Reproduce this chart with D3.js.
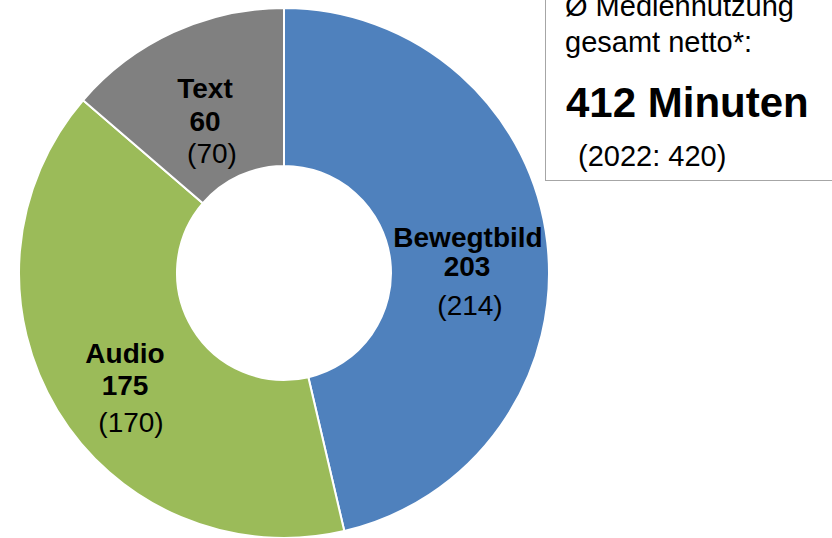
<!DOCTYPE html>
<html>
<head>
<meta charset="utf-8">
<script src="https://cdn.jsdelivr.net/npm/d3@7"></script>
<style>
  body { margin: 0; background: #fff; }
  svg { display: block; font-family: "Liberation Sans", Arial, sans-serif; }
</style>
</head>
<body>
<div id="chart"></div>
<script>
// data
let categories = ["Bewegtbild", "Audio", "Text"];
let values2023 = [203, 175, 60];
let values2022 = [214, 170, 70];
let colours = ["#4f81bd", "#9bbb59", "#808080"];
let boxLines = ["Ø Mediennutzung", "gesamt netto*:"];
let totalLabel = "412 Minuten";
let prevTotalLabel = "(2022: 420)";

let width = 832, height = 538;
let cx = 284, cy = 273; // donut centre
let outerR = 265, innerR = 107;

let svg = d3.select("#chart").append("svg")
    .attr("width", width)
    .attr("height", height);

let data = categories.map(function(c, i) {
    return {name: c, value: values2023[i], prev: values2022[i], colour: colours[i]};
});

let pie = d3.pie().sort(null).value(d => d.value);
let arc = d3.arc().innerRadius(innerR).outerRadius(outerR);

let g = svg.append("g").attr("transform", "translate(" + cx + "," + cy + ")");

g.selectAll("path")
    .data(pie(data))
    .join("path")
    .attr("d", arc)
    .attr("fill", d => d.data.colour)
    .attr("stroke", "#fff")
    .attr("stroke-width", 2);

//label layout: [x, y] for name, value and (previous value) - hand placed like in the original
let labelLayout = [
    [[468, 247], [467, 276], [470, 315]],
    [[125, 363], [125, 395], [131, 432]],
    [[205, 98], [205, 131], [212, 163]]
];

data.forEach(function(d, i) {
    let pos = labelLayout[i];
    let t = svg.append("text")
        .attr("text-anchor", "middle")
        .attr("font-size", 28)
        .attr("fill", "#000");
    t.append("tspan").attr("x", pos[0][0]).attr("y", pos[0][1]).attr("font-weight", "bold").text(d.name);
    t.append("tspan").attr("x", pos[1][0]).attr("y", pos[1][1]).attr("font-weight", "bold").text(d.value);
    t.append("tspan").attr("x", pos[2][0]).attr("y", pos[2][1]).text("(" + d.prev + ")");
});

// info box on the right
svg.append("rect")
    .attr("x", 545.5)
    .attr("y", -10)
    .attr("width", 300)
    .attr("height", 190.5)
    .attr("fill", "#fff")
    .attr("stroke", "#a6a6a6")
    .attr("stroke-width", 1);

svg.append("text").attr("x", 565).attr("y", 16).attr("font-size", 29).text(boxLines[0]);
svg.append("text").attr("x", 565).attr("y", 52).attr("font-size", 29).text(boxLines[1]);
svg.append("text").attr("x", 566).attr("y", 117).attr("font-size", 42).attr("font-weight", "bold").text(totalLabel);
svg.append("text").attr("x", 578).attr("y", 166).attr("font-size", 29).text(prevTotalLabel);
</script>
</body>
</html>
